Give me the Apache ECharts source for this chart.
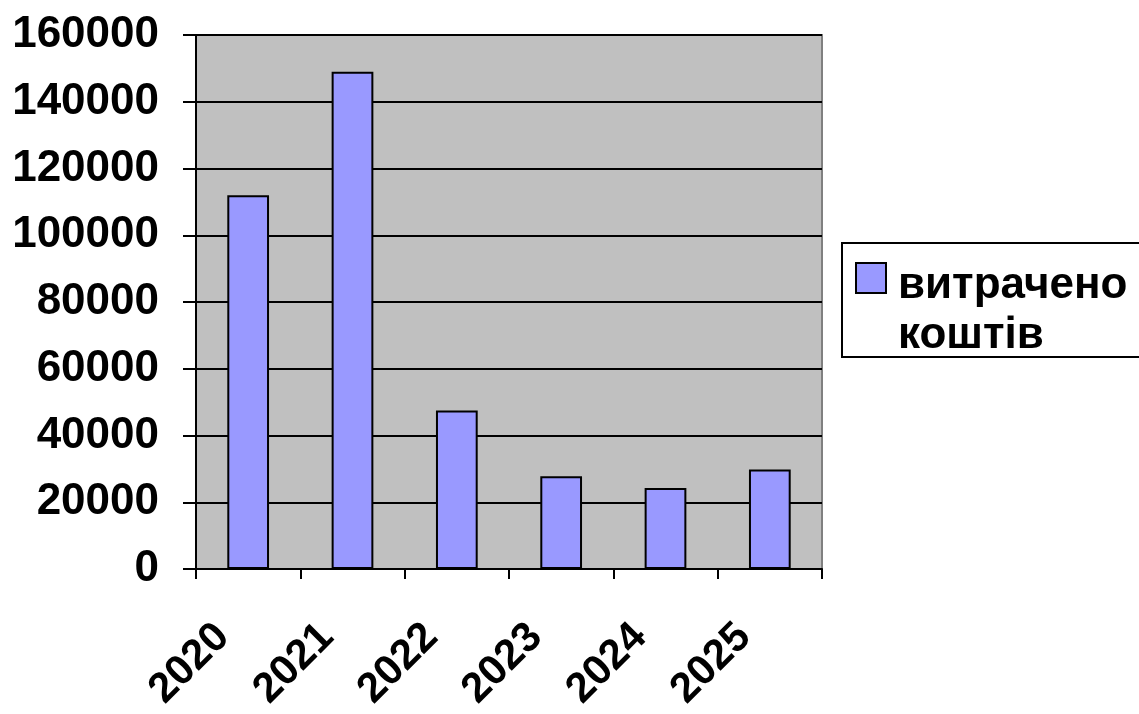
<!DOCTYPE html>
<html><head><meta charset="utf-8">
<script src="https://cdn.jsdelivr.net/npm/echarts@6/dist/echarts.min.js"></script>
<style>html,body{margin:0;padding:0;background:#fff}#c{width:1139px;height:714px}</style>
</head><body><div id="c"></div>
<script>
const categories = ['2020', '2021', '2022', '2023', '2024', '2025'];
const spentValues = [112000, 149000, 47500, 27800, 24300, 29800];
const seriesName = 'витрачено\nкоштів';
const yMin = 0, yMax = 160000, yStep = 20000;

const FONT = "'Liberation Sans', Arial, sans-serif";
const chart = echarts.init(document.getElementById('c'), null, {renderer: 'canvas'});
chart.setOption({
  backgroundColor: '#ffffff',
  animation: false,
  grid: {left: 196, right: 317, top: 35, bottom: 145, show: true,
    backgroundColor: '#C0C0C0', borderColor: '#808080', borderWidth: 2},
  graphic: [{type: 'rect', z: 1, shape: {x: 842, y: 243, width: 320, height: 114},
    style: {fill: '#ffffff', stroke: '#000000', lineWidth: 2}}],
  legend: {
    z: 5, left: 855, top: 223, padding: 0, orient: 'vertical',
    icon: 'rect', itemWidth: 30, itemHeight: 30,
    itemStyle: {borderColor: '#000', borderWidth: 2},
    formatter: function (name) {
      return '{s| }\n' + name.split('\n').map(function (t) { return '{a|' + t + '}'; }).join('\n');
    },
    textStyle: {fontFamily: FONT, fontWeight: 'bold', fontSize: 44, color: '#000',
      rich: {
        s: {fontSize: 10, lineHeight: 66},
        a: {fontFamily: FONT, fontWeight: 'bold', fontSize: 44, lineHeight: 50, color: '#000', padding: [0, 0, 0, 7]}
      }},
    data: [seriesName]
  },
  xAxis: {
    type: 'category', data: categories, boundaryGap: true,
    axisLine: {lineStyle: {color: '#000', width: 2}},
    axisTick: {show: true, length: 10, lineStyle: {color: '#000', width: 2}},
    axisLabel: {rotate: 45, margin: 36, padding: [0, 36, 0, 0], interval: 0,
      fontFamily: FONT, fontWeight: 'bold', fontSize: 42, color: '#000'},
    splitLine: {show: false}
  },
  yAxis: {
    type: 'value', min: yMin, max: yMax, interval: yStep,
    axisLine: {show: true, lineStyle: {color: '#000', width: 2}},
    axisTick: {show: true, length: 13, lineStyle: {color: '#000', width: 2}},
    axisLabel: {margin: 37, fontFamily: FONT, fontWeight: 'bold', fontSize: 44, color: '#000',
      formatter: function (v) { return String(v); }},
    splitLine: {show: true, lineStyle: {color: '#000', width: 2}}
  },
  series: [{
    name: seriesName, type: 'bar', data: spentValues, barWidth: '40%',
    itemStyle: {color: '#9999FF', borderColor: '#000', borderWidth: 2}
  }]
});
</script></body></html>
